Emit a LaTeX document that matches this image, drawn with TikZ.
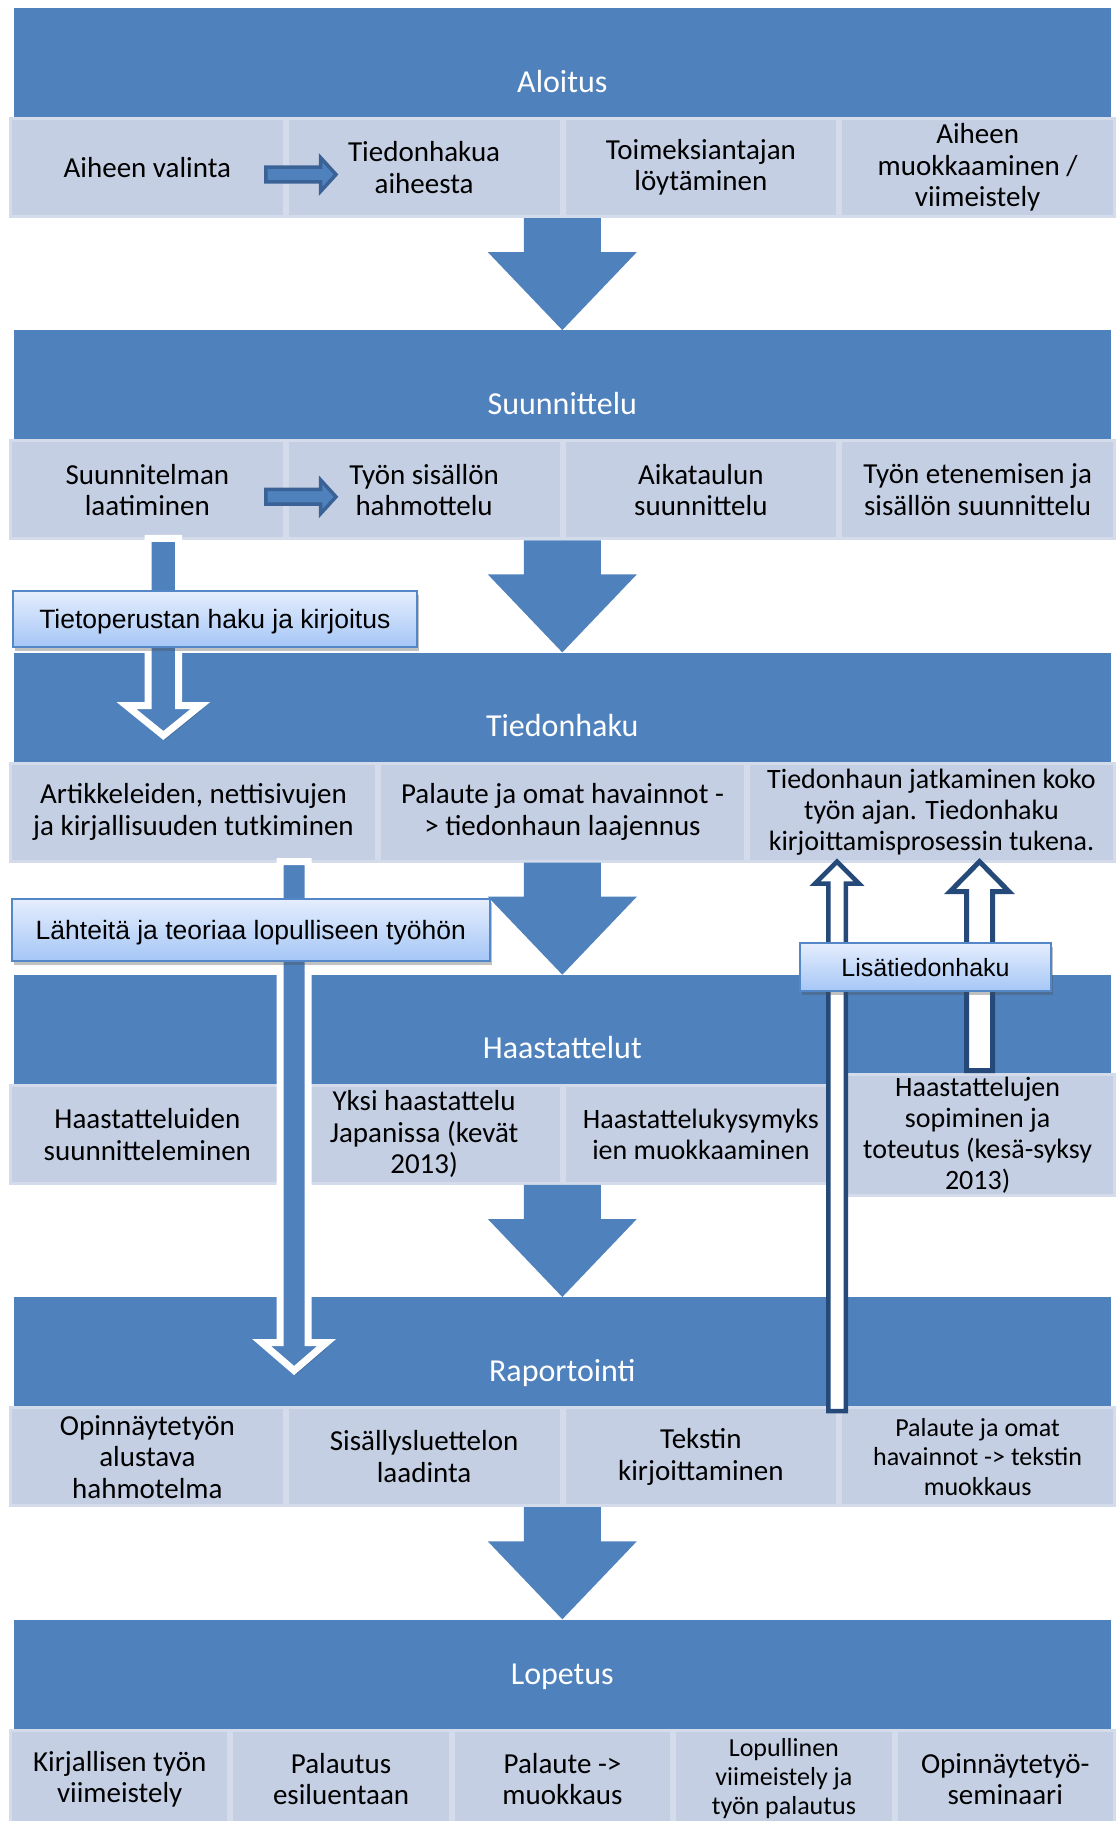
\documentclass[tikz,border=0pt]{standalone}
\usepackage{fontspec}
\setmainfont{Carlito}
\newfontfamily\calloutfont{Liberation Sans}
\usetikzlibrary{calc,shadows}

\definecolor{blockblue}{RGB}{79,129,189}
\definecolor{rowfill}{RGB}{196,207,227}
\definecolor{rowline}{RGB}{212,220,235}
\definecolor{smalldark}{RGB}{58,98,150}
\definecolor{upline}{RGB}{37,74,122}
\definecolor{calloutline}{RGB}{84,135,200}
\definecolor{callouttop}{RGB}{229,238,253}
\definecolor{calloutbottom}{RGB}{165,198,246}

\newcommand\setfs[2]{\fontsize{#1}{#2}\selectfont}

% Block arrow from tail #2 to tip #3: shaft half-width #4, head half-width #5, head length #6
\newcommand\blockarrow[6]{%
  \coordinate (ba-base) at ($(#3)!#6pt!(#2)$);
  \path[#1] ($(#2)!#4pt!90:(#3)$) -- ($(ba-base)!#4pt!90:(#3)$)
    -- ($(ba-base)!#5pt!90:(#3)$) -- (#3)
    -- ($(ba-base)!#5pt!-90:(#3)$) -- ($(ba-base)!#4pt!-90:(#3)$)
    -- ($(#2)!#4pt!-90:(#3)$) -- cycle;}

\begin{document}
\begin{tikzpicture}[x=1pt,y=-1pt,
  hdr/.style={fill=blockblue, draw=none, minimum width=1097.4pt, minimum height=109pt,
    inner sep=0pt, text height=59pt, text depth=0pt, text=white, font=\setfs{32}{38}},
  cell/.style={fill=rowfill, draw=rowline, line width=3pt, inner sep=0pt, align=center,
    minimum height=98pt, text=black, font=\setfs{29}{31.5}},
  cell4/.style={cell, minimum width=273.75pt},
  cell3/.style={cell, minimum width=366pt},
  cell5/.style={cell, minimum width=218.4pt},
  bigarrow/.style={fill=blockblue},
  smallarrow/.style={fill=blockblue, draw=smalldark, line width=3.5pt, line join=miter},
  whitearrow/.style={fill=blockblue, draw=white, line width=7pt, line join=miter,
    drop shadow={shadow xshift=1pt, shadow yshift=-5pt, opacity=0.15, fill=black}},
  uparrow/.style={fill=white, draw=upline, line join=miter},
  callout/.style={draw=calloutline, line width=2pt, top color=callouttop,
    bottom color=calloutbottom, inner sep=0pt, text=black,
    drop shadow={shadow xshift=2pt, shadow yshift=-4pt, opacity=0.35, fill=black!70}},
]
\useasboundingbox (0,0) rectangle (1117,1821);

% phase headers
\node[hdr] (hA) at (562.3,62.5)   {Aloitus};
\node[hdr] (hB) at (562.3,384.8)  {Suunnittelu};
\node[hdr] (hC) at (562.3,707.1)  {Tiedonhaku};
\node[hdr] (hD) at (562.3,1029.4) {Haastattelut};
\node[hdr] (hE) at (562.3,1351.7) {Raportointi};
\node[hdr, text height=20.6pt] (hF) at (562.3,1674) {Lopetus};

% Aloitus tasks
\node[cell4] (a1) at (147.375,167.5) {Aiheen valinta};
\node[cell4] (a2) at (424.125,167.5) {Tiedonhakua\\aiheesta};
\node[cell4] (a3) at (700.875,167.5) {Toimeksiantajan\\löytäminen};
\node[cell4] (a4) at (977.625,167.5) {Aiheen\\muokkaaminen /\\viimeistely};

% Suunnittelu tasks
\node[cell4] (b1) at (147.375,489.8) {Suunnitelman\\laatiminen};
\node[cell4] (b2) at (424.125,489.8) {Työn sisällön\\hahmottelu};
\node[cell4] (b3) at (700.875,489.8) {Aikataulun\\suunnittelu};
\node[cell4] (b4) at (977.625,489.8) {Työn etenemisen ja\\sisällön suunnittelu};

% Tiedonhaku tasks
\node[cell3] (c1) at (193.5,812.1) {Artikkeleiden, nettisivujen\\ja kirjallisuuden tutkiminen};
\node[cell3] (c2) at (562.5,812.1) {Palaute ja omat havainnot -\\> tiedonhaun laajennus};
\node[cell3, font=\setfs{28}{31}] (c3) at (931.5,812.1)
  {Tiedonhaun jatkaminen koko\\työn ajan. Tiedonhaku\\kirjoittamisprosessin tukena.};

% Haastattelut tasks
\node[cell4] (d1) at (147.375,1134.4) {Haastatteluiden\\suunnitteleminen};
\node[cell4] (d2) at (424.125,1134.4) {Yksi haastattelu\\Japanissa (kevät\\2013)};
\node[cell4, font=\setfs{28}{31}] (d3) at (700.875,1134.4) {Haastattelukysymyks\\ien muokkaaminen};
\node[cell4, minimum height=121pt, font=\setfs{28}{31}] (d4) at (977.625,1135)
  {Haastattelujen\\sopiminen ja\\toteutus (kesä-syksy\\2013)};

% Raportointi tasks
\node[cell4] (e1) at (147.375,1456.7) {Opinnäytetyön\\alustava\\hahmotelma};
\node[cell4] (e2) at (424.125,1456.7) {Sisällysluettelon\\laadinta};
\node[cell4] (e3) at (700.875,1456.7) {Tekstin\\kirjoittaminen};
\node[cell4, font=\setfs{26}{29.5}] (e4) at (977.625,1456.7) {Palaute ja omat\\havainnot -> tekstin\\muokkaus};

% Lopetus tasks
\node[cell5] (f1) at (119.7,1779)  {Kirjallisen työn\\viimeistely};
\node[cell5] (f2) at (341.1,1779)  {Palautus\\esiluentaan};
\node[cell5] (f3) at (562.5,1779)  {Palaute ->\\muokkaus};
\node[cell5, font=\setfs{26}{29}] (f4) at (783.9,1779) {Lopullinen\\viimeistely ja\\työn palautus};
\node[cell5] (f5) at (1005.3,1779) {Opinnäytetyö-\\seminaari};

% phase-to-phase arrows
\coordinate (dAB) at (hB.north |- a2.south);
\coordinate (dBC) at (hC.north |- b2.south);
\coordinate (dCD) at (hD.north |- c2.south);
\coordinate (dDE) at (hE.north |- d2.south);
\coordinate (dEF) at (hF.north |- e2.south);
\blockarrow{bigarrow}{dAB}{hB.north}{38.5}{74.5}{78}
\blockarrow{bigarrow}{dBC}{hC.north}{38.5}{74.5}{78}
\blockarrow{bigarrow}{dCD}{hD.north}{38.5}{74.5}{78}
\blockarrow{bigarrow}{dDE}{hE.north}{38.5}{74.5}{78}
\blockarrow{bigarrow}{dEF}{hF.north}{38.5}{74.5}{78}

% arrows between the first two tasks
\coordinate (sa-tail) at ($(a1.east)+(-20,7)$);
\coordinate (sa-tip)  at ($(a2.west)+(50.25,7)$);
\coordinate (sb-tail) at ($(b1.east)+(-20,7)$);
\coordinate (sb-tip)  at ($(b2.west)+(50.25,7)$);
\blockarrow{smallarrow}{sa-tail}{sa-tip}{7.4}{17}{15.5}
\blockarrow{smallarrow}{sb-tail}{sb-tip}{7.4}{17}{15.5}

% background research arrows
\coordinate (w1-tail) at ($(b1.south)+(16,-2)$);
\coordinate (w1-tip)  at (w1-tail |- 0,735.5);
\blockarrow{whitearrow}{w1-tail}{w1-tip}{15.2}{37}{30}
\coordinate (w2-tail) at ($(c1.south)+(100.6,-1)$);
\coordinate (w2-tip)  at (w2-tail |- 0,1370.5);
\blockarrow{whitearrow}{w2-tail}{w2-tip}{14.1}{32.5}{28}

% additional search arrows
\coordinate (u1-tip)  at ($(c3.south)+(-94.5,-1)$);
\coordinate (u1-tail) at ($(u1-tip |- e4.north)+(0,5)$);
\blockarrow{uparrow, line width=4.5pt}{u1-tail}{u1-tip}{8.75}{22}{22}
\coordinate (u2-tip)  at ($(c3.south)+(48,-1)$);
\coordinate (u2-tail) at ($(u2-tip |- d4.north)+(0,-2.5)$);
\blockarrow{uparrow, line width=5pt}{u2-tail}{u2-tip}{13}{29.5}{30}

% callout labels
\node[callout, minimum width=404pt, minimum height=56pt, text height=19pt, text depth=0pt,
  font=\calloutfont\setfs{26.5}{30}] (k1) at (214.8,619) {Tietoperustan haku ja kirjoitus};
\node[callout, minimum width=478.5pt, minimum height=62pt, text height=19pt, text depth=0pt,
  font=\calloutfont\setfs{26.5}{30}] (k2) at (250.8,929.7) {Lähteitä ja teoriaa lopulliseen työhön};
\node[callout, minimum width=251pt, minimum height=48.5pt, text height=18pt, text depth=0pt,
  font=\calloutfont\setfs{25}{28}] (k3) at (925.5,967) {Lisätiedonhaku};
\end{tikzpicture}
\end{document}
